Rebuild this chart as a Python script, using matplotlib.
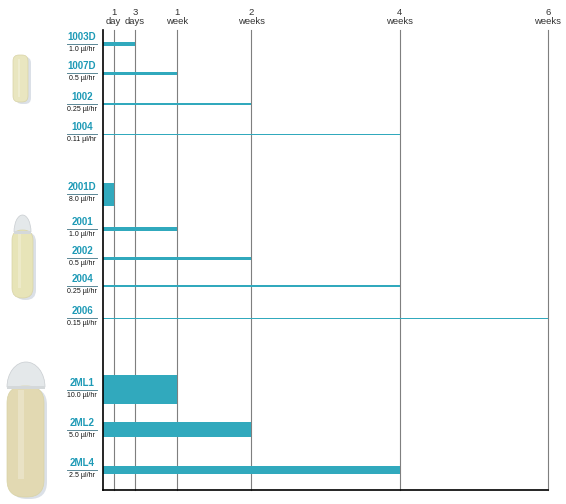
import numpy as np
import matplotlib
matplotlib.use('Agg')
import matplotlib.pyplot as plt
from matplotlib.patches import FancyBboxPatch, Wedge, Rectangle
from matplotlib.transforms import blended_transform_factory

plt.rcParams['font.family'] = ['Liberation Sans', 'DejaVu Sans']

# pump models, pumping rates (ul/hr) and durations (days)
models = ['1003D', '1007D', '1002', '1004',
          '2001D', '2001', '2002', '2004', '2006',
          '2ML1', '2ML2', '2ML4']
rates = [1.0, 0.5, 0.25, 0.11,
         8.0, 1.0, 0.5, 0.25, 0.15,
         10.0, 5.0, 2.5]
durations = [3, 7, 14, 28,
             1, 7, 14, 28, 42,
             7, 14, 28]
tick_days = [1, 3, 7, 14, 28, 42]
tick_labels = ['1\nday', '3\ndays', '1\nweek', '2\nweeks', '4\nweeks', '6\nweeks']

# row layout (pixel rows)
ypos = [44, 73.5, 104, 134.5, 194.5, 229, 258.5, 286, 318.5, 390, 430, 470]

W, H = 566, 504
TEAL = '#31a9bd'
NAME_C = '#1e9ab6'

fig = plt.figure(figsize=(W / 100, H / 100), dpi=100)

# background layer for pump drawings
bg = fig.add_axes([0, 0, 1, 1])
bg.set_xlim(0, W)
bg.set_ylim(H, 0)
bg.axis('off')


def pump(x0, x1, y_body, y1, r, body, cap=None):
    w = x1 - x0
    box = f'round,pad=0,rounding_size={r}'
    bg.add_patch(FancyBboxPatch((x0 + 3, y_body + 2), w, y1 - y_body, boxstyle=box,
                                fc='#c3ccd8', ec='none', alpha=0.6))
    if cap is not None:
        cx0, cx1, cy0, cy1 = cap
        # dome: upper half of an ellipse (y axis is inverted)
        dome = Wedge(((cx0 + cx1) / 2, cy1), (cx1 - cx0) / 2, 180, 360, fc='#e4e8ea', ec='#c8ccd0', lw=0.5)
        dome.set_transform(bg.transData)
        sx = 1.0
        sy = (cy1 - cy0) / ((cx1 - cx0) / 2)
        from matplotlib.transforms import Affine2D
        cxm = (cx0 + cx1) / 2
        dome.set_transform(Affine2D().translate(-cxm, -cy1).scale(sx, sy).translate(cxm, cy1) + bg.transData)
        bg.add_patch(dome)
    bg.add_patch(FancyBboxPatch((x0, y_body), w, y1 - y_body, boxstyle=box,
                                fc=body, ec='#d8d3a6', lw=0.5))
    bg.add_patch(Rectangle((x0 + w * 0.3, y_body + 4), w * 0.15, (y1 - y_body) * 0.8,
                           fc='white', ec='none', alpha=0.25))
    if cap is not None:
        bg.add_patch(Rectangle((cx0, cy1 - 1.5), cx1 - cx0, 3, fc='#d4d8da', ec='none'))


pump(13, 28, 55, 102, 6, '#e9e6c0')
pump(12, 33, 230, 298, 10, '#e7e4b8', cap=(14, 31, 215, 232))
pump(7, 44, 386, 497, 17, '#e2d9b2', cap=(7, 45, 362, 387))

# chart
ax = fig.add_axes([103 / W, 1 - 490 / H, (548 - 103) / W, (490 - 30) / H])
ax.set_xlim(0, 42)
ax.set_ylim(490, 30)

for d in tick_days:
    ax.axvline(d, color='#7f7f7f', lw=0.8, zorder=1, clip_on=False)

heights = [1 + 2.8 * r for r in rates]
ax.barh(ypos, durations, height=heights, left=0, color=TEAL, zorder=2)

for s in ['top', 'right']:
    ax.spines[s].set_visible(False)
for s in ['left', 'bottom']:
    ax.spines[s].set_color('black')
    ax.spines[s].set_linewidth(1.2)
    ax.spines[s].set_zorder(3)

ax.set_yticks([])
ax.xaxis.tick_top()
ax.set_xticks(tick_days)
ax.set_xticklabels(tick_labels, fontsize=6.8, color='#333333', linespacing=1.0)
ax.tick_params(axis='x', length=0, pad=3)

tr = blended_transform_factory(fig.transFigure, ax.transData)
for name, rate, y in zip(models, rates, ypos):
    ax.text(82 / W, y - 2, name, transform=tr, ha='center', va='bottom',
            fontsize=7, fontweight='bold', color=NAME_C, clip_on=False)
    ax.plot([67 / W, 97 / W], [y, y], transform=tr, color='#5b8896', lw=0.7, clip_on=False)
    ax.text(82 / W, y + 1.8, f'{rate} \u00b5l/hr', transform=tr, ha='center', va='top',
            fontsize=5, color='#111111', clip_on=False)

fig.savefig('out.png', dpi=100)
